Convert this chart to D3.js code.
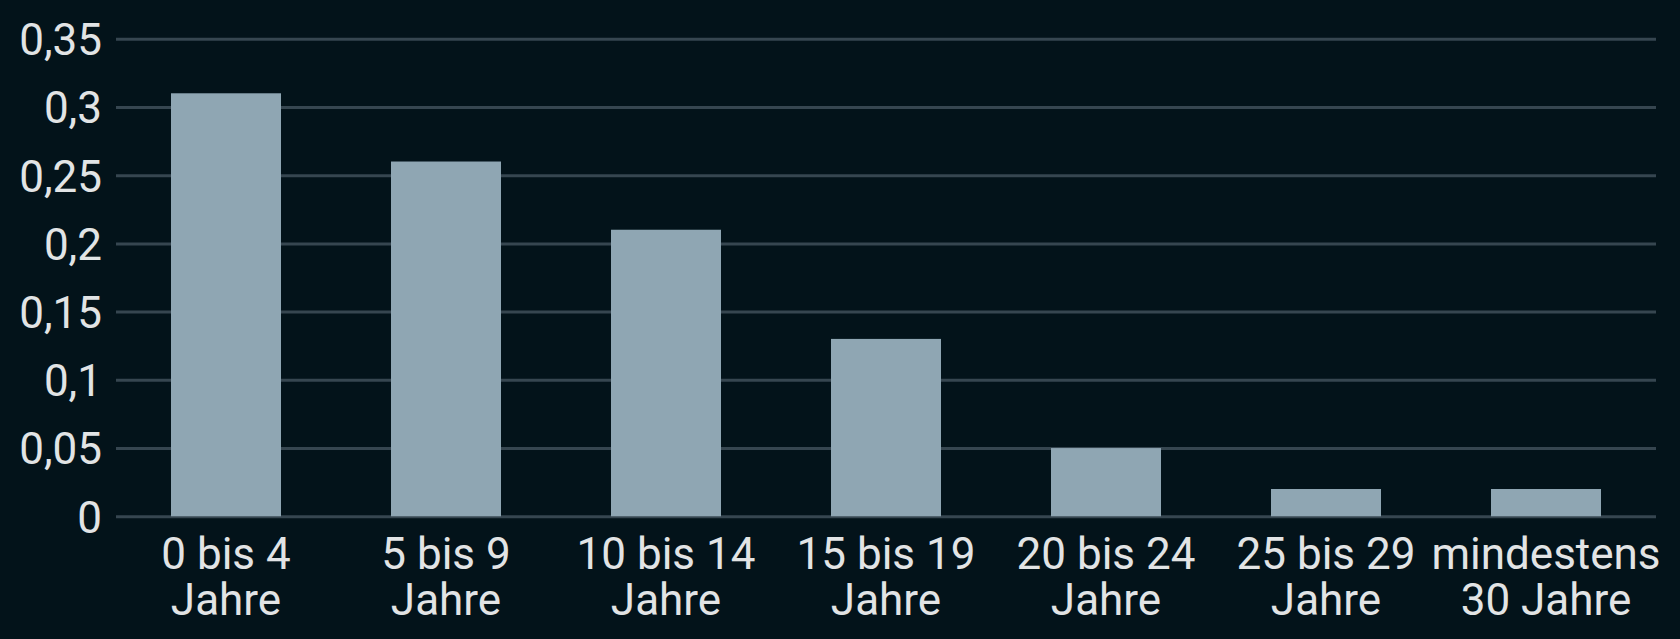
<!DOCTYPE html>
<html>
<head>
<meta charset="utf-8">
<script src="https://cdn.jsdelivr.net/npm/d3@7"></script>
<style>
  html, body { margin: 0; padding: 0; background: #03131a; }
  svg { display: block; }
</style>
</head>
<body>
<svg id="chart" width="1680" height="639"></svg>
<script>
// Altersgruppen und Anteile
const categories = [
  ['0 bis 4', 'Jahre'],
  ['5 bis 9', 'Jahre'],
  ['10 bis 14', 'Jahre'],
  ['15 bis 19', 'Jahre'],
  ['20 bis 24', 'Jahre'],
  ['25 bis 29', 'Jahre'],
  ['mindestens', '30 Jahre']
];
const values = [0.31, 0.26, 0.21, 0.13, 0.05, 0.02, 0.02];
const yTicks = [0, 0.05, 0.1, 0.15, 0.2, 0.25, 0.3, 0.35];

function renderChart() {
  const svg = d3.select('#chart');
  const margin = { left: 116, right: 24, top: 38.7, bottom: 122.7 };
  const width = 1680, height = 639;

  const x = d3.scaleBand()
    .domain(categories.map((c, i) => i))
    .range([margin.left, width - margin.right])
    .paddingInner(0.5)
    .paddingOuter(0.25);

  const y = d3.scaleLinear()
    .domain([0, 0.35])
    .range([height - margin.bottom, margin.top]);

  const fmt = v => String(+v.toFixed(2)).replace('.', ',');

  // Gitterlinien
  const yAxis = svg.append('g')
    .attr('transform', `translate(${margin.left},0)`)
    .call(d3.axisLeft(y).tickValues(yTicks).tickSize(-(width - margin.left - margin.right)).tickFormat(fmt).tickPadding(14));
  yAxis.select('.domain').remove();
  yAxis.selectAll('.tick line')
    .attr('stroke', '#364650')
    .attr('stroke-width', 3);
  yAxis.selectAll('.tick text')
    .attr('fill', '#e2e4e5')
    .attr('font-family', 'Roboto, sans-serif')
    .attr('font-size', 44)
    .attr('dy', '0.36em');

  // Balken
  svg.append('g').selectAll('rect')
    .data(values)
    .enter()
    .append('rect')
    .attr('x', (d, i) => x(i))
    .attr('y', d => y(d))
    .attr('width', x.bandwidth())
    .attr('height', d => y(0) - y(d))
    .attr('fill', '#8fa6b3');

  // Achsenbeschriftung
  const labels = svg.append('g').selectAll('text')
    .data(categories)
    .enter()
    .append('text')
    .attr('x', (d, i) => x(i) + x.bandwidth() / 2)
    .attr('y', 569)
    .attr('text-anchor', 'middle')
    .attr('fill', '#e2e4e5')
    .attr('font-family', 'Roboto, sans-serif')
    .attr('font-size', 44);
  labels.append('tspan')
    .attr('x', (d, i) => x(i) + x.bandwidth() / 2)
    .text(d => d[0]);
  labels.append('tspan')
    .attr('x', (d, i) => x(i) + x.bandwidth() / 2)
    .attr('dy', 46)
    .text(d => d[1]);
}

renderChart();
</script>
</body>
</html>
